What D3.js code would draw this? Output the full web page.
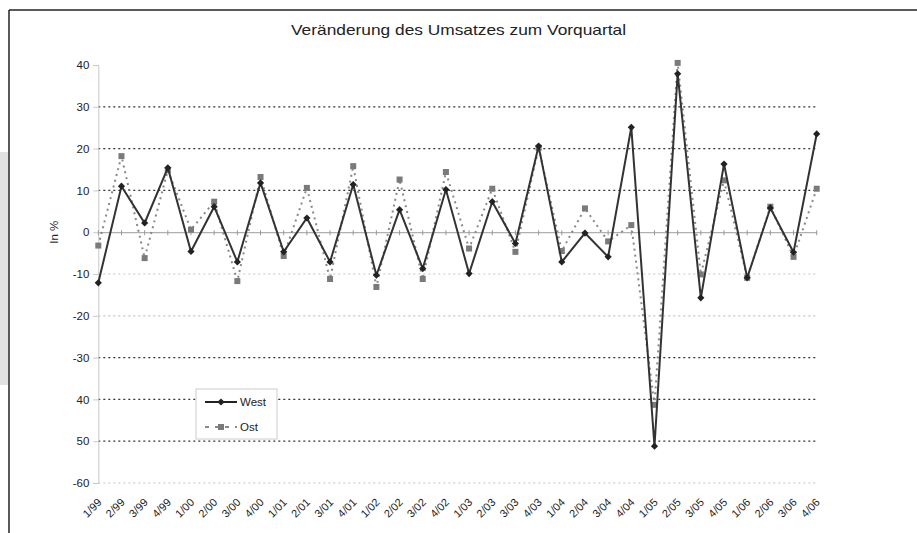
<!DOCTYPE html>
<html>
<head>
<meta charset="utf-8">
<script src="https://d3js.org/d3.v7.min.js"></script>
<style>
  body { margin: 0; background: #fff; }
  svg { display: block; font-family: "Liberation Sans", Arial, sans-serif; }
</style>
</head>
<body>
<svg width="917" height="533"></svg>
<script>
var categories = ["1/99","2/99","3/99","4/99","1/00","2/00","3/00","4/00",
                  "1/01","2/01","3/01","4/01","1/02","2/02","3/02","4/02",
                  "1/03","2/03","3/03","4/03","1/04","2/04","3/04","4/04",
                  "1/05","2/05","3/05","4/05","1/06","2/06","3/06","4/06"];
var west = [-12.1, 11.0, 2.2, 15.4, -4.6, 6.1, -7.1, 11.8,
            -4.7, 3.4, -7.1, 11.4, -10.3, 5.4, -8.7, 10.2,
            -9.9, 7.3, -2.7, 20.6, -7.1, -0.2, -5.9, 25.1,
            -51.2, 37.9, -15.7, 16.3, -10.9, 5.8, -4.8, 23.5];
var ost = [-3.2, 18.2, -6.2, 14.8, 0.6, 7.3, -11.7, 13.2,
           -5.7, 10.6, -11.2, 15.8, -13.1, 12.6, -11.2, 14.4,
           -3.9, 10.4, -4.7, 20.2, -4.5, 5.7, -2.2, 1.7,
           -41.3, 40.5, -10.1, 12.4, -10.9, 6.1, -5.9, 10.4];
var yTicks = [40, 30, 20, 10, 0, -10, -20, -30, -40, -50, -60];
var yTickLabels = ["40", "30", "20", "10", "0", "-10", "-20", "-30", "40", "50", "-60"];
var seriesNames = ["West", "Ost"];

var svg = d3.select("svg");
var x = d3.scalePoint().domain(categories).range([98.3, 816.7]);
var y = d3.scaleLinear().domain([-60, 40]).range([483, 65]);

// scan leftovers: grey strip and frame
svg.append("rect").attr("x", 0).attr("y", 152).attr("width", 8).attr("height", 233).attr("fill", "#e2e2e2");
svg.append("line").attr("x1", 9).attr("y1", 10).attr("x2", 917).attr("y2", 10)
    .attr("stroke", "#222").attr("stroke-width", 1.5);
svg.append("line").attr("x1", 9).attr("y1", 10).attr("x2", 9).attr("y2", 533)
    .attr("stroke", "#222").attr("stroke-width", 1.5);

svg.append("text")
    .attr("x", 458.5)
    .attr("y", 35)
    .attr("text-anchor", "middle")
    .attr("font-size", 15)
    .attr("textLength", 335)
    .attr("lengthAdjust", "spacingAndGlyphs")
    .attr("fill", "#222")
    .text("Veränderung des Umsatzes zum Vorquartal");

// grid lines
svg.append("g").selectAll("line")
    .data(yTicks.filter(d => d != 40 && d != 0))
    .enter().append("line")
    .attr("x1", x.range()[0])
    .attr("x2", x.range()[1])
    .attr("y1", d => y(d))
    .attr("y2", d => y(d))
    .attr("stroke", d => (d == -10 || d == -20 || d == -60) ? "#c4c4c4" : "#333")
    .attr("stroke-width", 1.2)
    .attr("stroke-dasharray", "2,3");

// y axis
var yAxis = svg.append("g")
    .attr("transform", "translate(" + x.range()[0] + ",0)")
    .call(d3.axisLeft(y).tickValues(yTicks).tickSize(5).tickPadding(4)
        .tickFormat((d, i) => yTickLabels[i]));
yAxis.select(".domain").attr("stroke", "#c8c8c8");
yAxis.selectAll(".tick line").attr("stroke", "#c8c8c8");
yAxis.selectAll("text").attr("font-size", 11.5).attr("fill", "#222").attr("font-family", "Liberation Sans, Arial");

svg.append("text")
    .attr("transform", "translate(58," + y(0) + ") rotate(-90)")
    .attr("text-anchor", "middle")
    .attr("font-size", 11.5)
    .attr("fill", "#222")
    .text("In %");

// zero line with category ticks
var xAxis = svg.append("g")
    .attr("transform", "translate(0," + y(0) + ")")
    .call(d3.axisBottom(x).tickSize(0).tickFormat(""));
xAxis.select(".domain").attr("stroke", "#b0b0b0").attr("stroke-width", 1.2);
svg.append("g").selectAll("line")
    .data(categories)
    .enter().append("line")
    .attr("x1", d => x(d)).attr("x2", d => x(d))
    .attr("y1", y(0) - 2).attr("y2", y(0) + 3)
    .attr("stroke", "#999");

// category labels
svg.append("g").selectAll("text")
    .data(categories)
    .enter().append("text")
    .attr("transform", d => "translate(" + (x(d) + 4) + ",503) rotate(-45)")
    .attr("text-anchor", "end")
    .attr("font-size", 11)
    .attr("fill", "#222")
    .text(d => d);

var line = d3.line().x((d, i) => x(categories[i])).y(d => y(d));

// Ost
svg.append("path")
    .datum(ost)
    .attr("d", line)
    .attr("fill", "none")
    .attr("stroke", "#888")
    .attr("stroke-width", 2)
    .attr("stroke-dasharray", "2,4");
svg.append("g").selectAll("rect")
    .data(ost)
    .enter().append("rect")
    .attr("x", (d, i) => x(categories[i]) - 3)
    .attr("y", d => y(d) - 3)
    .attr("width", 6)
    .attr("height", 6)
    .attr("fill", "#7a7a7a");

// West
svg.append("path")
    .datum(west)
    .attr("d", line)
    .attr("fill", "none")
    .attr("stroke", "#333")
    .attr("stroke-width", 2);
var diamond = d3.symbol().type(d3.symbolSquare).size(26);
svg.append("g").selectAll("path")
    .data(west)
    .enter().append("path")
    .attr("transform", (d, i) => "translate(" + x(categories[i]) + "," + y(d) + ") rotate(45)")
    .attr("d", diamond)
    .attr("fill", "#222");

// legend
var legend = svg.append("g").attr("transform", "translate(196,389)");
legend.append("rect")
    .attr("width", 81).attr("height", 50)
    .attr("fill", "#fff").attr("stroke", "#ccc");
legend.append("line").attr("x1", 9).attr("x2", 41).attr("y1", 13).attr("y2", 13)
    .attr("stroke", "#222").attr("stroke-width", 2);
legend.append("path").attr("transform", "translate(25,13) rotate(45)").attr("d", diamond).attr("fill", "#222");
legend.append("line").attr("x1", 9).attr("x2", 41).attr("y1", 38).attr("y2", 38)
    .attr("stroke", "#888").attr("stroke-width", 2).attr("stroke-dasharray", "4,6");
legend.append("rect").attr("x", 22).attr("y", 35).attr("width", 6).attr("height", 6).attr("fill", "#7a7a7a");
legend.selectAll(".legend-text")
    .data(seriesNames)
    .enter().append("text")
    .attr("x", 44)
    .attr("y", (d, i) => 17 + i * 25)
    .attr("font-size", 11.5)
    .attr("fill", "#222")
    .text(d => d);
</script>
</body>
</html>
